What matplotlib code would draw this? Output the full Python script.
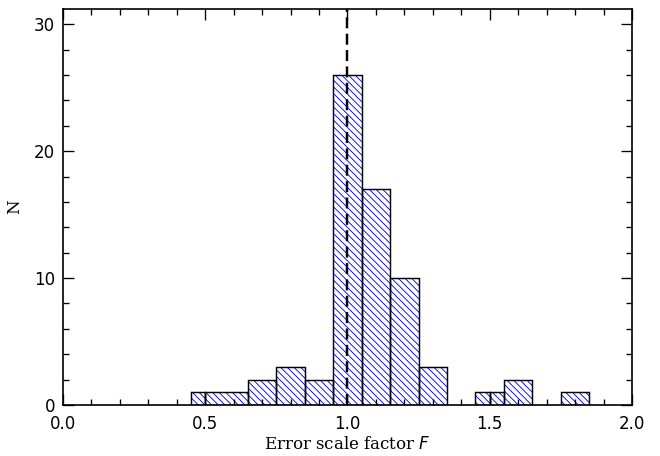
import numpy as np
import matplotlib
matplotlib.use("Agg")
import matplotlib.pyplot as plt
from matplotlib.ticker import MultipleLocator

# histogram segments as drawn: left edge, right edge, count
left = [0.45, 0.50, 0.65, 0.75, 0.85, 0.95, 1.05, 1.15, 1.25, 1.45, 1.50, 1.55, 1.75]
right = [0.50, 0.65, 0.75, 0.85, 0.95, 1.05, 1.15, 1.25, 1.35, 1.50, 1.55, 1.65, 1.85]
counts = [1, 1, 2, 3, 2, 26, 17, 10, 3, 1, 1, 2, 1]

left = np.array(left)
right = np.array(right)
width = right - left

# dpi 80 so that the hatch cell (1 inch) gives ~6.7 px line spacing
fig = plt.figure(figsize=(8.25, 5.7), dpi=80)
ax = fig.add_axes([0.0955, 0.112, 0.862, 0.868])

plt.rcParams['hatch.linewidth'] = 0.8
ax.bar(left, counts, width=width, align='edge', facecolor='none',
       edgecolor='blue', hatch='\\' * 4, linewidth=0)
ax.bar(left, counts, width=width, align='edge', facecolor='none',
       edgecolor='black', linewidth=1.3)

ax.axvline(1.0, color='black', linestyle=(0, (4.5, 2.2)), linewidth=2.2)

ax.set_xlim(0, 2.0)
ax.set_ylim(0, 31.2)
ax.xaxis.set_major_locator(MultipleLocator(0.5))
ax.xaxis.set_minor_locator(MultipleLocator(0.1))
ax.yaxis.set_major_locator(MultipleLocator(10))
ax.yaxis.set_minor_locator(MultipleLocator(2))
ax.tick_params(which='both', direction='in', top=True, right=True, labelsize=15)
ax.tick_params(axis='x', pad=9)
ax.tick_params(axis='y', pad=7)
ax.tick_params(which='major', length=10, width=1.2)
ax.tick_params(which='minor', length=5, width=1.2)
ax.xaxis.set_major_formatter(plt.FuncFormatter(lambda v, p: f"{v:.1f}"))
for s in ax.spines.values():
    s.set_linewidth(1.5)

ax.set_xlabel("Error scale factor $F$", family='DejaVu Serif', fontsize=15, labelpad=3)
ax.set_ylabel("N", family='DejaVu Serif', fontsize=15, labelpad=10)

fig.savefig("out.png", dpi=80)
